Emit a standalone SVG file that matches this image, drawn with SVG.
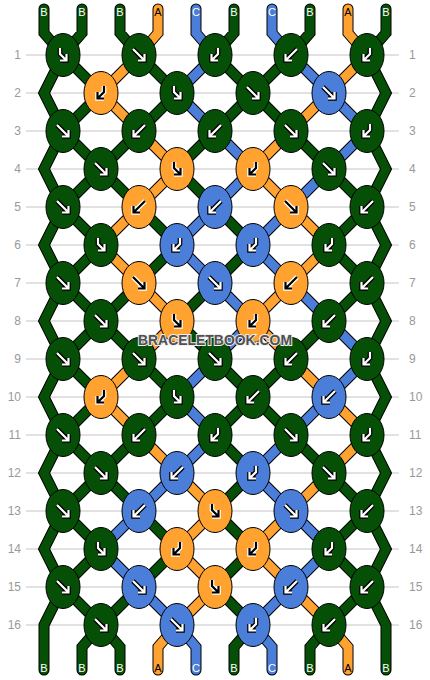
<svg xmlns="http://www.w3.org/2000/svg" xmlns:xlink="http://www.w3.org/1999/xlink" width="430" height="680" viewBox="0 0 430 680">
<style>
.grid line{stroke:#c4c4c4;stroke-width:1}
.num{font-family:"Liberation Sans",Arial,sans-serif;font-size:12px;fill:#999}
.so{fill:none;stroke:#000;stroke-width:11;stroke-linecap:round;stroke-linejoin:miter}
.sg,.sor,.sbl{fill:none;stroke-width:9;stroke-linecap:round;stroke-linejoin:miter}
.sg{stroke:#064f06}.sor{stroke:#ffa230}.sbl{stroke:#4a7ed9}
.kg,.ko,.kb{stroke:#000;stroke-width:1}
.kg{fill:#064f06}.ko{fill:#ffa230}.kb{fill:#4a7ed9}
.bo{fill:none;stroke:#000;stroke-width:4.6;stroke-linejoin:miter}
.wi{fill:none;stroke:#fff;stroke-width:2.2;stroke-linejoin:miter}
.wo{fill:none;stroke:#fff;stroke-width:4.6;stroke-linejoin:miter}
.bi{fill:none;stroke:#000;stroke-width:2.2;stroke-linejoin:miter}
.lbl{font-family:"Liberation Sans",Arial,sans-serif;font-size:11px;text-anchor:middle}
.lw{fill:#fff}.lk{fill:#000}
.wm{font-family:"Liberation Sans",Arial,sans-serif;font-weight:bold;font-size:15px;fill:#505050;stroke:#eee;stroke-width:2;paint-order:stroke;text-anchor:middle}
</style>
<defs>
<path id="pF" d="M-6,-6L5.5,5.5M-1,5.5H5.5V-1"/>
<path id="pB" d="M6,-6L-5.5,5.5M1,5.5H-5.5V-1"/>
<path id="pFB" d="M-3,-7V-1L3.5,5.5M-3,5.5H3.5V-1"/>
<path id="pBF" d="M3,-7V-1L-3.5,5.5M3,5.5H-3.5V-1"/>
<g id="wF"><use href="#pF" class="bo"/><use href="#pF" class="wi"/></g>
<g id="wB"><use href="#pB" class="bo"/><use href="#pB" class="wi"/></g>
<g id="wFB"><use href="#pFB" class="bo"/><use href="#pFB" class="wi"/></g>
<g id="wBF"><use href="#pBF" class="bo"/><use href="#pBF" class="wi"/></g>
<g id="oF"><use href="#pF" class="wo"/><use href="#pF" class="bi"/></g>
<g id="oB"><use href="#pB" class="wo"/><use href="#pB" class="bi"/></g>
<g id="oFB"><use href="#pFB" class="wo"/><use href="#pFB" class="bi"/></g>
<g id="oBF"><use href="#pBF" class="wo"/><use href="#pBF" class="bi"/></g>
</defs>
<rect width="430" height="680" fill="#fff"/>
<g id="grid" class="grid">
<line x1="26" y1="55" x2="399" y2="55"/><line x1="26" y1="93" x2="399" y2="93"/><line x1="26" y1="131" x2="399" y2="131"/><line x1="26" y1="169" x2="399" y2="169"/><line x1="26" y1="207" x2="399" y2="207"/><line x1="26" y1="245" x2="399" y2="245"/><line x1="26" y1="283" x2="399" y2="283"/><line x1="26" y1="321" x2="399" y2="321"/><line x1="26" y1="359" x2="399" y2="359"/><line x1="26" y1="397" x2="399" y2="397"/><line x1="26" y1="435" x2="399" y2="435"/><line x1="26" y1="473" x2="399" y2="473"/><line x1="26" y1="511" x2="399" y2="511"/><line x1="26" y1="549" x2="399" y2="549"/><line x1="26" y1="587" x2="399" y2="587"/><line x1="26" y1="625" x2="399" y2="625"/>
</g>
<g id="row-numbers" class="num">
<g text-anchor="end">
<text x="21" y="59">1</text><text x="21" y="97">2</text><text x="21" y="135">3</text><text x="21" y="173">4</text><text x="21" y="211">5</text><text x="21" y="249">6</text><text x="21" y="287">7</text><text x="21" y="325">8</text><text x="21" y="363">9</text><text x="21" y="401">10</text><text x="21" y="439">11</text><text x="21" y="477">12</text><text x="21" y="515">13</text><text x="21" y="553">14</text><text x="21" y="591">15</text><text x="21" y="629">16</text>
</g>
<g text-anchor="start">
<text x="409" y="59">1</text><text x="409" y="97">2</text><text x="409" y="135">3</text><text x="409" y="173">4</text><text x="409" y="211">5</text><text x="409" y="249">6</text><text x="409" y="287">7</text><text x="409" y="325">8</text><text x="409" y="363">9</text><text x="409" y="401">10</text><text x="409" y="439">11</text><text x="409" y="477">12</text><text x="409" y="515">13</text><text x="409" y="553">14</text><text x="409" y="591">15</text><text x="409" y="629">16</text>
</g>
</g>
<g id="connectors">
<path class="so" d="M44,9L44,33L63,55L44,93L63,131L44,169L63,207L44,245L63,283L44,321L63,359L44,397L63,435L44,473L63,511L44,549L63,587L44,625L44,670"/>
<path class="so" d="M386,9L386,33L367,55L386,93L367,131L386,169L367,207L386,245L367,283L386,321L367,359L386,397L367,435L386,473L367,511L386,549L367,587L386,625L386,670"/>
<path class="so" d="M82,9L82,33L63,55M120,9L120,33L139,55M234,9L234,33L215,55M310,9L310,33L291,55M63,55L101,93M139,55L177,93M215,55L253,93M291,55L253,93M101,93L63,131M177,93L139,131M253,93L215,131M253,93L291,131M63,131L101,169M139,131L101,169M215,131L177,169M291,131L329,169M101,169L63,207M101,169L139,207M177,169L215,207M329,169L367,207M63,207L101,245M139,207L177,245M215,207L253,245M367,207L329,245M101,245L63,283M177,245L139,283M253,245L215,283M329,245L367,283M63,283L101,321M139,283L101,321M215,283L177,321M367,283L329,321M101,321L63,359M101,321L139,359M177,321L215,359M329,321L291,359M63,359L101,397M139,359L177,397M215,359L253,397M291,359L253,397M101,397L63,435M177,397L139,435M253,397L215,435M253,397L291,435M63,435L101,473M139,435L101,473M215,435L253,473M291,435L329,473M101,473L63,511M101,473L139,511M253,473L215,511M329,473L367,511M63,511L101,549M139,511L177,549M215,511L253,549M367,511L329,549M101,549L63,587M177,549L139,587M253,549L215,587M329,549L367,587M63,587L101,625M139,587L101,625M215,587L253,625M367,587L329,625M101,625L82,647L82,670M101,625L120,647L120,670M253,625L234,647L234,670M329,625L310,647L310,670"/>
<path class="so" d="M158,9L158,33L139,55M348,9L348,33L367,55M139,55L101,93M367,55L329,93M101,93L139,131M329,93L291,131M139,131L177,169M291,131L253,169M177,169L139,207M253,169L291,207M139,207L101,245M291,207L329,245M101,245L139,283M329,245L291,283M139,283L177,321M291,283L253,321M177,321L139,359M253,321L291,359M139,359L101,397M291,359L329,397M101,397L139,435M329,397L367,435M139,435L177,473M367,435L329,473M177,473L215,511M329,473L291,511M215,511L177,549M291,511L253,549M177,549L215,587M253,549L291,587M215,587L177,625M291,587L329,625M177,625L158,647L158,670M329,625L348,647L348,670"/>
<path class="so" d="M196,9L196,33L215,55M272,9L272,33L291,55M215,55L177,93M291,55L329,93M177,93L215,131M329,93L367,131M215,131L253,169M367,131L329,169M253,169L215,207M329,169L291,207M215,207L177,245M291,207L253,245M177,245L215,283M253,245L291,283M215,283L253,321M291,283L329,321M253,321L215,359M329,321L367,359M215,359L177,397M367,359L329,397M177,397L215,435M329,397L291,435M215,435L177,473M291,435L253,473M177,473L139,511M253,473L291,511M139,511L101,549M291,511L329,549M101,549L139,587M329,549L291,587M139,587L177,625M291,587L253,625M177,625L196,647L196,670M253,625L272,647L272,670"/>
<path class="sg" d="M44,9L44,33L63,55L44,93L63,131L44,169L63,207L44,245L63,283L44,321L63,359L44,397L63,435L44,473L63,511L44,549L63,587L44,625L44,670"/>
<path class="sg" d="M386,9L386,33L367,55L386,93L367,131L386,169L367,207L386,245L367,283L386,321L367,359L386,397L367,435L386,473L367,511L386,549L367,587L386,625L386,670"/>
<path class="sg" d="M82,9L82,33L63,55M120,9L120,33L139,55M234,9L234,33L215,55M310,9L310,33L291,55M63,55L101,93M139,55L177,93M215,55L253,93M291,55L253,93M101,93L63,131M177,93L139,131M253,93L215,131M253,93L291,131M63,131L101,169M139,131L101,169M215,131L177,169M291,131L329,169M101,169L63,207M101,169L139,207M177,169L215,207M329,169L367,207M63,207L101,245M139,207L177,245M215,207L253,245M367,207L329,245M101,245L63,283M177,245L139,283M253,245L215,283M329,245L367,283M63,283L101,321M139,283L101,321M215,283L177,321M367,283L329,321M101,321L63,359M101,321L139,359M177,321L215,359M329,321L291,359M63,359L101,397M139,359L177,397M215,359L253,397M291,359L253,397M101,397L63,435M177,397L139,435M253,397L215,435M253,397L291,435M63,435L101,473M139,435L101,473M215,435L253,473M291,435L329,473M101,473L63,511M101,473L139,511M253,473L215,511M329,473L367,511M63,511L101,549M139,511L177,549M215,511L253,549M367,511L329,549M101,549L63,587M177,549L139,587M253,549L215,587M329,549L367,587M63,587L101,625M139,587L101,625M215,587L253,625M367,587L329,625M101,625L82,647L82,670M101,625L120,647L120,670M253,625L234,647L234,670M329,625L310,647L310,670"/>
<path class="sor" d="M158,9L158,33L139,55M348,9L348,33L367,55M139,55L101,93M367,55L329,93M101,93L139,131M329,93L291,131M139,131L177,169M291,131L253,169M177,169L139,207M253,169L291,207M139,207L101,245M291,207L329,245M101,245L139,283M329,245L291,283M139,283L177,321M291,283L253,321M177,321L139,359M253,321L291,359M139,359L101,397M291,359L329,397M101,397L139,435M329,397L367,435M139,435L177,473M367,435L329,473M177,473L215,511M329,473L291,511M215,511L177,549M291,511L253,549M177,549L215,587M253,549L291,587M215,587L177,625M291,587L329,625M177,625L158,647L158,670M329,625L348,647L348,670"/>
<path class="sbl" d="M196,9L196,33L215,55M272,9L272,33L291,55M215,55L177,93M291,55L329,93M177,93L215,131M329,93L367,131M215,131L253,169M367,131L329,169M253,169L215,207M329,169L291,207M215,207L177,245M291,207L253,245M177,245L215,283M253,245L291,283M215,283L253,321M291,283L329,321M253,321L215,359M329,321L367,359M215,359L177,397M367,359L329,397M177,397L215,435M329,397L291,435M215,435L177,473M291,435L253,473M177,473L139,511M253,473L291,511M139,511L101,549M291,511L329,549M101,549L139,587M329,549L291,587M139,587L177,625M291,587L253,625M177,625L196,647L196,670M253,625L272,647L272,670"/>
</g>
<g id="string-labels" class="lbl">
<text class="lw" x="44" y="16">B</text><text class="lw" x="82" y="16">B</text><text class="lw" x="120" y="16">B</text><text class="lk" x="158" y="16">A</text><text class="lw" x="196" y="16">C</text><text class="lw" x="234" y="16">B</text><text class="lw" x="272" y="16">C</text><text class="lw" x="310" y="16">B</text><text class="lk" x="348" y="16">A</text><text class="lw" x="386" y="16">B</text>
<text class="lw" x="44" y="672">B</text><text class="lw" x="82" y="672">B</text><text class="lw" x="120" y="672">B</text><text class="lk" x="158" y="672">A</text><text class="lw" x="196" y="672">C</text><text class="lw" x="234" y="672">B</text><text class="lw" x="272" y="672">C</text><text class="lw" x="310" y="672">B</text><text class="lk" x="348" y="672">A</text><text class="lw" x="386" y="672">B</text>
</g>
<g id="knots">
<g id="r1k1"><ellipse class="kg" cx="63" cy="55" rx="17" ry="21.5"/><use href="#wFB" x="63" y="55"/></g>
<g id="r1k2"><ellipse class="kg" cx="139" cy="55" rx="17" ry="21.5"/><use href="#wF" x="139" y="55"/></g>
<g id="r1k3"><ellipse class="kg" cx="215" cy="55" rx="17" ry="21.5"/><use href="#wBF" x="215" y="55"/></g>
<g id="r1k4"><ellipse class="kg" cx="291" cy="55" rx="17" ry="21.5"/><use href="#wB" x="291" y="55"/></g>
<g id="r1k5"><ellipse class="kg" cx="367" cy="55" rx="17" ry="21.5"/><use href="#wBF" x="367" y="55"/></g>
<g id="r2k1"><ellipse class="ko" cx="101" cy="93" rx="17" ry="21.5"/><use href="#oBF" x="101" y="93"/></g>
<g id="r2k2"><ellipse class="kg" cx="177" cy="93" rx="17" ry="21.5"/><use href="#wFB" x="177" y="93"/></g>
<g id="r2k3"><ellipse class="kg" cx="253" cy="93" rx="17" ry="21.5"/><use href="#wF" x="253" y="93"/></g>
<g id="r2k4"><ellipse class="kb" cx="329" cy="93" rx="17" ry="21.5"/><use href="#wF" x="329" y="93"/></g>
<g id="r3k1"><ellipse class="kg" cx="63" cy="131" rx="17" ry="21.5"/><use href="#wF" x="63" y="131"/></g>
<g id="r3k2"><ellipse class="kg" cx="139" cy="131" rx="17" ry="21.5"/><use href="#wB" x="139" y="131"/></g>
<g id="r3k3"><ellipse class="kg" cx="215" cy="131" rx="17" ry="21.5"/><use href="#wB" x="215" y="131"/></g>
<g id="r3k4"><ellipse class="kg" cx="291" cy="131" rx="17" ry="21.5"/><use href="#wF" x="291" y="131"/></g>
<g id="r3k5"><ellipse class="kg" cx="367" cy="131" rx="17" ry="21.5"/><use href="#wBF" x="367" y="131"/></g>
<g id="r4k1"><ellipse class="kg" cx="101" cy="169" rx="17" ry="21.5"/><use href="#wF" x="101" y="169"/></g>
<g id="r4k2"><ellipse class="ko" cx="177" cy="169" rx="17" ry="21.5"/><use href="#oFB" x="177" y="169"/></g>
<g id="r4k3"><ellipse class="ko" cx="253" cy="169" rx="17" ry="21.5"/><use href="#oBF" x="253" y="169"/></g>
<g id="r4k4"><ellipse class="kg" cx="329" cy="169" rx="17" ry="21.5"/><use href="#wF" x="329" y="169"/></g>
<g id="r5k1"><ellipse class="kg" cx="63" cy="207" rx="17" ry="21.5"/><use href="#wF" x="63" y="207"/></g>
<g id="r5k2"><ellipse class="ko" cx="139" cy="207" rx="17" ry="21.5"/><use href="#oB" x="139" y="207"/></g>
<g id="r5k3"><ellipse class="kb" cx="215" cy="207" rx="17" ry="21.5"/><use href="#wB" x="215" y="207"/></g>
<g id="r5k4"><ellipse class="ko" cx="291" cy="207" rx="17" ry="21.5"/><use href="#oF" x="291" y="207"/></g>
<g id="r5k5"><ellipse class="kg" cx="367" cy="207" rx="17" ry="21.5"/><use href="#wB" x="367" y="207"/></g>
<g id="r6k1"><ellipse class="kg" cx="101" cy="245" rx="17" ry="21.5"/><use href="#wFB" x="101" y="245"/></g>
<g id="r6k2"><ellipse class="kb" cx="177" cy="245" rx="17" ry="21.5"/><use href="#wBF" x="177" y="245"/></g>
<g id="r6k3"><ellipse class="kb" cx="253" cy="245" rx="17" ry="21.5"/><use href="#wBF" x="253" y="245"/></g>
<g id="r6k4"><ellipse class="kg" cx="329" cy="245" rx="17" ry="21.5"/><use href="#wBF" x="329" y="245"/></g>
<g id="r7k1"><ellipse class="kg" cx="63" cy="283" rx="17" ry="21.5"/><use href="#wF" x="63" y="283"/></g>
<g id="r7k2"><ellipse class="ko" cx="139" cy="283" rx="17" ry="21.5"/><use href="#oF" x="139" y="283"/></g>
<g id="r7k3"><ellipse class="kb" cx="215" cy="283" rx="17" ry="21.5"/><use href="#wF" x="215" y="283"/></g>
<g id="r7k4"><ellipse class="ko" cx="291" cy="283" rx="17" ry="21.5"/><use href="#oB" x="291" y="283"/></g>
<g id="r7k5"><ellipse class="kg" cx="367" cy="283" rx="17" ry="21.5"/><use href="#wB" x="367" y="283"/></g>
<g id="r8k1"><ellipse class="kg" cx="101" cy="321" rx="17" ry="21.5"/><use href="#wF" x="101" y="321"/></g>
<g id="r8k2"><ellipse class="ko" cx="177" cy="321" rx="17" ry="21.5"/><use href="#oFB" x="177" y="321"/></g>
<g id="r8k3"><ellipse class="ko" cx="253" cy="321" rx="17" ry="21.5"/><use href="#oBF" x="253" y="321"/></g>
<g id="r8k4"><ellipse class="kg" cx="329" cy="321" rx="17" ry="21.5"/><use href="#wB" x="329" y="321"/></g>
<g id="r9k1"><ellipse class="kg" cx="63" cy="359" rx="17" ry="21.5"/><use href="#wF" x="63" y="359"/></g>
<g id="r9k2"><ellipse class="kg" cx="139" cy="359" rx="17" ry="21.5"/><use href="#wF" x="139" y="359"/></g>
<g id="r9k3"><ellipse class="kg" cx="215" cy="359" rx="17" ry="21.5"/><use href="#wF" x="215" y="359"/></g>
<g id="r9k4"><ellipse class="kg" cx="291" cy="359" rx="17" ry="21.5"/><use href="#wB" x="291" y="359"/></g>
<g id="r9k5"><ellipse class="kg" cx="367" cy="359" rx="17" ry="21.5"/><use href="#wBF" x="367" y="359"/></g>
<g id="r10k1"><ellipse class="ko" cx="101" cy="397" rx="17" ry="21.5"/><use href="#oBF" x="101" y="397"/></g>
<g id="r10k2"><ellipse class="kg" cx="177" cy="397" rx="17" ry="21.5"/><use href="#wFB" x="177" y="397"/></g>
<g id="r10k3"><ellipse class="kg" cx="253" cy="397" rx="17" ry="21.5"/><use href="#wB" x="253" y="397"/></g>
<g id="r10k4"><ellipse class="kb" cx="329" cy="397" rx="17" ry="21.5"/><use href="#wB" x="329" y="397"/></g>
<g id="r11k1"><ellipse class="kg" cx="63" cy="435" rx="17" ry="21.5"/><use href="#wF" x="63" y="435"/></g>
<g id="r11k2"><ellipse class="kg" cx="139" cy="435" rx="17" ry="21.5"/><use href="#wB" x="139" y="435"/></g>
<g id="r11k3"><ellipse class="kg" cx="215" cy="435" rx="17" ry="21.5"/><use href="#wBF" x="215" y="435"/></g>
<g id="r11k4"><ellipse class="kg" cx="291" cy="435" rx="17" ry="21.5"/><use href="#wF" x="291" y="435"/></g>
<g id="r11k5"><ellipse class="kg" cx="367" cy="435" rx="17" ry="21.5"/><use href="#wBF" x="367" y="435"/></g>
<g id="r12k1"><ellipse class="kg" cx="101" cy="473" rx="17" ry="21.5"/><use href="#wF" x="101" y="473"/></g>
<g id="r12k2"><ellipse class="kb" cx="177" cy="473" rx="17" ry="21.5"/><use href="#wB" x="177" y="473"/></g>
<g id="r12k3"><ellipse class="kb" cx="253" cy="473" rx="17" ry="21.5"/><use href="#wBF" x="253" y="473"/></g>
<g id="r12k4"><ellipse class="kg" cx="329" cy="473" rx="17" ry="21.5"/><use href="#wF" x="329" y="473"/></g>
<g id="r13k1"><ellipse class="kg" cx="63" cy="511" rx="17" ry="21.5"/><use href="#wF" x="63" y="511"/></g>
<g id="r13k2"><ellipse class="kb" cx="139" cy="511" rx="17" ry="21.5"/><use href="#wB" x="139" y="511"/></g>
<g id="r13k3"><ellipse class="ko" cx="215" cy="511" rx="17" ry="21.5"/><use href="#oFB" x="215" y="511"/></g>
<g id="r13k4"><ellipse class="kb" cx="291" cy="511" rx="17" ry="21.5"/><use href="#wF" x="291" y="511"/></g>
<g id="r13k5"><ellipse class="kg" cx="367" cy="511" rx="17" ry="21.5"/><use href="#wB" x="367" y="511"/></g>
<g id="r14k1"><ellipse class="kg" cx="101" cy="549" rx="17" ry="21.5"/><use href="#wFB" x="101" y="549"/></g>
<g id="r14k2"><ellipse class="ko" cx="177" cy="549" rx="17" ry="21.5"/><use href="#oBF" x="177" y="549"/></g>
<g id="r14k3"><ellipse class="ko" cx="253" cy="549" rx="17" ry="21.5"/><use href="#oBF" x="253" y="549"/></g>
<g id="r14k4"><ellipse class="kg" cx="329" cy="549" rx="17" ry="21.5"/><use href="#wBF" x="329" y="549"/></g>
<g id="r15k1"><ellipse class="kg" cx="63" cy="587" rx="17" ry="21.5"/><use href="#wF" x="63" y="587"/></g>
<g id="r15k2"><ellipse class="kb" cx="139" cy="587" rx="17" ry="21.5"/><use href="#wF" x="139" y="587"/></g>
<g id="r15k3"><ellipse class="ko" cx="215" cy="587" rx="17" ry="21.5"/><use href="#oFB" x="215" y="587"/></g>
<g id="r15k4"><ellipse class="kb" cx="291" cy="587" rx="17" ry="21.5"/><use href="#wB" x="291" y="587"/></g>
<g id="r15k5"><ellipse class="kg" cx="367" cy="587" rx="17" ry="21.5"/><use href="#wB" x="367" y="587"/></g>
<g id="r16k1"><ellipse class="kg" cx="101" cy="625" rx="17" ry="21.5"/><use href="#wF" x="101" y="625"/></g>
<g id="r16k2"><ellipse class="kb" cx="177" cy="625" rx="17" ry="21.5"/><use href="#wF" x="177" y="625"/></g>
<g id="r16k3"><ellipse class="kb" cx="253" cy="625" rx="17" ry="21.5"/><use href="#wBF" x="253" y="625"/></g>
<g id="r16k4"><ellipse class="kg" cx="329" cy="625" rx="17" ry="21.5"/><use href="#wB" x="329" y="625"/></g>
</g>
<text id="watermark" class="wm" x="215" y="345" textLength="154" lengthAdjust="spacingAndGlyphs">BRACELETBOOK.COM</text>
</svg>
